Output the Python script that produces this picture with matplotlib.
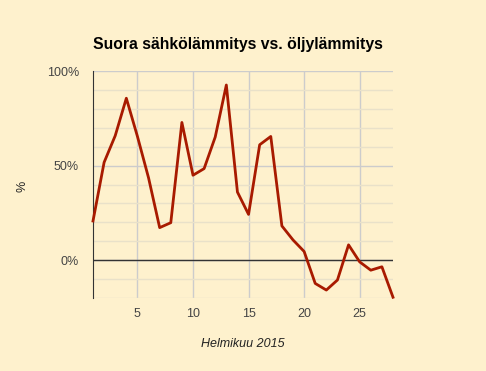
import matplotlib
matplotlib.use("Agg")
import matplotlib.pyplot as plt
from matplotlib.ticker import MultipleLocator, FixedLocator

plt.rcParams["font.family"] = ["Liberation Sans", "DejaVu Sans"]

days = list(range(1, 29))
share_pct = [20.7, 51.7, 65.8, 85.6, 65.4, 43.5, 17.2, 19.8, 72.8, 44.9,
             48.4, 65.1, 92.6, 36.0, 24.2, 61.0, 65.4, 18.1, 10.7, 4.6,
             -12.3, -15.8, -10.5, 8.1, -0.9, -5.3, -3.5, -19.6]
y_ticks = [0, 50, 100]
y_tick_labels = ["0%", "50%", "100%"]
x_ticks = [5, 10, 15, 20, 25]

bg = "#fef1cd"
fig = plt.figure(figsize=(4.86, 3.71), dpi=100, facecolor=bg)
ax = fig.add_axes([93 / 486, 73 / 371, 300 / 486, 227 / 371], facecolor=bg)

ax.set_xlim(1, 28)
ax.set_ylim(-20, 100)
ax.yaxis.set_major_locator(FixedLocator(y_ticks))
ax.set_yticklabels(y_tick_labels)
ax.yaxis.set_minor_locator(MultipleLocator(10))
ax.xaxis.set_major_locator(FixedLocator(x_ticks))

ax.grid(which="minor", axis="y", color="#e9e1c9", linewidth=1)
ax.grid(which="major", axis="both", color="#cccccc", linewidth=1)
ax.set_axisbelow(True)
ax.axhline(0, color="#333333", linewidth=1, zorder=2)

ax.plot(days, share_pct, color="#a81a00", linewidth=2, zorder=3, clip_on=False)

for side in ("top", "right", "bottom"):
    ax.spines[side].set_visible(False)
ax.spines["left"].set_color("#333333")
ax.tick_params(which="both", length=0, labelsize=9, labelcolor="#444444")
ax.tick_params(axis="x", pad=7)
ax.tick_params(axis="y", pad=10)

ax.set_xlabel("Helmikuu 2015", fontsize=9, style="italic", color="#222222", labelpad=13)
fig.text(22 / 486, 1 - 186 / 371, "%", rotation=90, ha="center", va="center",
         fontsize=9, color="#222222")
fig.text(237.5 / 486, 1 - 45 / 371, "Suora sähkölämmitys vs. öljylämmitys",
         ha="center", va="center", fontsize=11.3, fontweight="bold", color="black")

fig.savefig("out.png", dpi=100, facecolor=bg)
